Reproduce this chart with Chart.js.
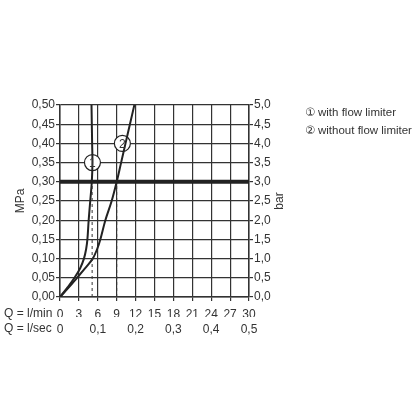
<!DOCTYPE html>
<html>
<head>
<meta charset="utf-8">
<script src="https://cdn.jsdelivr.net/npm/chart.js@4"></script>
<style>
  body { margin: 0; background: #fff; }
  #wrap { width: 416px; height: 416px; }
</style>
</head>
<body>
<div id="wrap"><canvas id="chart" width="416" height="416"></canvas></div>
<script>
// — data —
const flowTicks = [0, 3, 6, 9, 12, 15, 18, 21, 24, 27, 30];      // l/min
const secTicks  = [0, 6, 12, 18, 24, 30];                        // l/min positions of l/sec labels
const secLabels = ['0', '0,1', '0,2', '0,3', '0,4', '0,5'];

// curve 1: with flow limiter
const limFlow     = [0, 1.2, 2.3, 3.2, 3.8, 4.15, 4.35, 4.55, 4.8, 5.05, 5.15, 5.1, 5.05, 5.0];
const limPressure = [0, 0.025, 0.05, 0.075, 0.10, 0.125, 0.15, 0.20, 0.25, 0.30, 0.35, 0.40, 0.45, 0.50];
// curve 2: without flow limiter
const freeFlow     = [0, 1.4, 2.7, 4.0, 5.2, 5.9, 6.4, 7.2, 8.2, 9.0, 9.7, 10.4, 11.1, 11.8];
const freePressure = [0, 0.025, 0.05, 0.075, 0.10, 0.125, 0.15, 0.20, 0.25, 0.30, 0.35, 0.40, 0.45, 0.50];

const refPressure = 0.30;
const dashFlow    = [5.1, 9.0];

const markerFlow     = [5.15, 9.9];
const markerPressure = [0.35, 0.40];
const markerLabels   = ['1', '2'];

const legendMarks = ['\u2460', '\u2461'];
const legendTexts = ['with flow limiter', 'without flow limiter'];

const FONT = "'Liberation Sans', 'DejaVu Sans', sans-serif";
const INK  = '#333';
const comma = (v, d) => v.toFixed(d).replace('.', ',');
const pts = (xs, ys) => xs.map((x, i) => ({ x, y: ys[i] }));

// — extra texts: prefixes, legend, bar title, marker numbers —
const annotate = {
  id: 'annotate',
  afterDraw(chart) {
    const { ctx, scales } = chart;
    ctx.save();
    ctx.fillStyle = INK;
    ctx.font = `12px ${FONT}`;
    ctx.textBaseline = 'middle';
    ctx.textAlign = 'left';
    ctx.fillText('Q = l/min', 4, scales.x.top + 4 + 6 + 7);
    ctx.fillText('Q = l/sec', 4, scales.x2.top + 5 + 7);

    // legend
    ctx.font = `11.5px ${FONT}`;
    legendTexts.forEach((t, i) => {
      const y = 113 + i * 18;
      ctx.fillText(legendMarks[i], 305, y);
      ctx.fillText(t, 318, y);
    });

    // right title
    ctx.save();
    ctx.font = `12px ${FONT}`;
    ctx.translate(280, (chart.chartArea.top + chart.chartArea.bottom) / 2);
    ctx.rotate(-Math.PI / 2);
    ctx.textAlign = 'center';
    ctx.fillText('bar', 0, 0);
    ctx.restore();

    // numbers in circles
    const meta = chart.getDatasetMeta(chart.data.datasets.length - 1);
    ctx.textAlign = 'center';
    ctx.font = `12px ${FONT}`;
    meta.data.forEach((p, i) => ctx.fillText(markerLabels[i], p.x, p.y + 1));
    ctx.restore();
  }
};

const gridLine = { color: INK, lineWidth: 1.2, tickLength: 4 };

new Chart(document.getElementById('chart'), {
  type: 'scatter',
  data: {
    datasets: [
      {
        data: pts([0, 30], [refPressure, refPressure]),
        showLine: true, borderColor: '#222', borderWidth: 4, pointRadius: 0, tension: 0
      },
      ...dashFlow.map(f => ({
        data: pts([f, f], [0, refPressure]),
        showLine: true, borderColor: '#333', borderWidth: 1, borderDash: [3, 3], pointRadius: 0, tension: 0
      })),
      {
        data: pts(limFlow, limPressure),
        showLine: true, borderColor: '#222', borderWidth: 2, pointRadius: 0, tension: 0.35
      },
      {
        data: pts(freeFlow, freePressure),
        showLine: true, borderColor: '#222', borderWidth: 2, pointRadius: 0, tension: 0.35
      },
      {
        data: pts(markerFlow, markerPressure),
        pointRadius: 8, pointBackgroundColor: '#fff', pointBorderColor: '#222', pointBorderWidth: 1.2
      }
    ]
  },
  options: {
    responsive: false,
    animation: false,
    events: [],
    layout: { padding: { top: 105, bottom: 75, left: 0, right: 0 } },
    plugins: { legend: { display: false }, tooltip: { enabled: false } },
    scales: {
      x: {
        type: 'linear', position: 'bottom', min: 0, max: 30,
        afterBuildTicks: s => { s.ticks = flowTicks.map(v => ({ value: v })); },
        afterFit: s => { s.height = 20; },
        grid: gridLine,
        border: { color: INK, width: 1.5 },
        ticks: { color: INK, font: { family: FONT, size: 12 }, padding: 6, maxRotation: 0, autoSkip: false,
                 callback: v => String(v) }
      },
      x2: {
        type: 'linear', position: 'bottom', min: 0, max: 30,
        afterBuildTicks: s => { s.ticks = secTicks.map(v => ({ value: v })); },
        afterFit: s => { s.height = 24; },
        grid: { display: false, drawTicks: false },
        border: { display: false },
        ticks: { color: INK, font: { family: FONT, size: 12 }, padding: 5, maxRotation: 0, autoSkip: false,
                 callback: v => secLabels[secTicks.indexOf(v)] }
      },
      y: {
        position: 'left', min: 0, max: 0.5,
        afterBuildTicks: s => { s.ticks = [0,1,2,3,4,5,6,7,8,9,10].map(i => ({ value: i * 0.05 })); },
        afterFit: s => { s.width = 60; },
        grid: gridLine,
        border: { color: INK, width: 1.5 },
        title: { display: true, text: 'MPa', color: INK, font: { family: FONT, size: 12 }, padding: { top: 13 } },
        ticks: { color: INK, font: { family: FONT, size: 12 }, padding: 1, callback: v => comma(v, 2) }
      },
      y2: {
        position: 'right', min: 0, max: 5,
        afterBuildTicks: s => { s.ticks = [0,1,2,3,4,5,6,7,8,9,10].map(i => ({ value: i * 0.5 })); },
        afterFit: s => { s.width = 167; },
        grid: { drawOnChartArea: false, color: INK, lineWidth: 1.2, tickLength: 4 },
        border: { color: INK, width: 1.5 },
        ticks: { color: INK, font: { family: FONT, size: 12 }, padding: 1, callback: v => comma(v, 1) }
      }
    }
  },
  plugins: [annotate]
});
</script>
</body>
</html>
